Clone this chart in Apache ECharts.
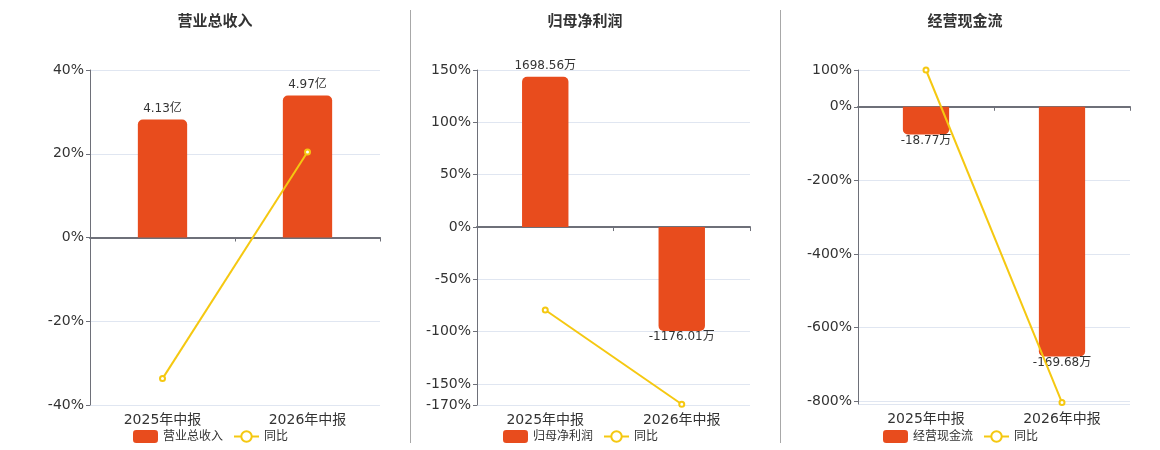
<!DOCTYPE html>
<html>
<head>
<meta charset="utf-8">
<script src="https://cdn.jsdelivr.net/npm/echarts@6/dist/echarts.min.js"></script>
<style>
    body { margin: 0; background: #fff; }
    .chart { position: absolute; top: 0; height: 450px; }
    .linea { position: absolute; top: 10px; height: 433px; width: 1px; background: #a8a8a8; }
</style>
</head>
<body>
<div id="graficoingresos" class="chart" style="left:0;width:410px"></div>
<div class="linea" style="left:410px"></div>
<div id="graficoutilidad" class="chart" style="left:410px;width:370px"></div>
<div class="linea" style="left:780px"></div>
<div id="graficoflujo" class="chart" style="left:780px;width:380px"></div>
<script>
// datos
var categorias = ['2025年中报', '2026年中报'];

var ingresos = [4.13, 4.97];          // 亿
var ingresosYoy = [-33.7, 20.4];      // %
var ingresosRango = [-40, 40];        // eje %
var ingresosRangoBarra = [-5.86, 5.86];

var utilidad = [1698.56, -1176.01];   // 万
var utilidadYoy = [-79.3, -169.24];
var utilidadRango = [-170, 150];
var utilidadRangoBarra = [-2012, 1775];

var flujo = [-18.77, -169.68];        // 万
var flujoYoy = [100, -804];
var flujoRango = [-808, 100];
var flujoRangoBarra = [-202, 25];

var fuente = "'DejaVu Sans', 'Noto Sans CJK SC', sans-serif";

function crearGrafico(domId, titulo, unidad, barras, yoy, rango, rangoBarra, cfg) {
    var dom = document.getElementById(domId);
    var myChart = echarts.init(dom, null, { renderer: 'canvas', useDirtyRect: false });

    var datosBarra = barras.map(function (v) {
        return {
            value: v,
            label: { position: v < 0 ? 'bottom' : 'top', distance: v < 0 ? 0 : 5 },
            itemStyle: { borderRadius: v < 0 ? [0, 0, 5, 5] : [5, 5, 0, 0] }
        };
    });

    var option = {
        animation: false,
        textStyle: { fontFamily: fuente },
        title: {
            text: titulo,
            left: cfg.tituloX,
            top: 10,
            textAlign: 'center',
            textStyle: { fontSize: 15, fontWeight: 'bold', color: '#333', fontFamily: fuente }
        },
        tooltip: { trigger: 'axis' },
        legend: {
            left: cfg.leyendaX,
            top: 425,
            itemWidth: 25,
            itemHeight: 13,
            itemGap: 10,
            textStyle: { fontSize: 12, color: '#333', fontFamily: fuente },
            data: [titulo, '同比']
        },
        grid: { left: cfg.izq, right: 30, top: 70, bottom: cfg.abajo || 45 },
        xAxis: [
            {
                type: 'category',
                data: categorias,
                axisLine: { show: false, onZero: false },
                axisTick: { show: false },
                axisLabel: { fontSize: 14, color: '#333', margin: 8, fontFamily: fuente }
            },
            {
                type: 'category',
                data: categorias,
                position: 'bottom',
                axisLine: { show: true, onZero: true, onZeroAxisIndex: 0, lineStyle: { color: '#6E7079', width: 2 } },
                axisTick: { show: true, length: 4, lineStyle: { color: '#6E7079' } },
                axisLabel: { show: false }
            }
        ],
        yAxis: [
            {
                type: 'value',
                min: rango[0],
                max: rango[1],
                axisLine: { show: true, lineStyle: { color: '#6E7079' } },
                axisTick: { show: true, length: 4 },
                axisLabel: { formatter: '{value}%', fontSize: 14, color: '#333', margin: 6, fontFamily: fuente },
                splitLine: { lineStyle: { color: '#E0E6F1' } }
            },
            {
                type: 'value',
                show: false,
                min: rangoBarra[0],
                max: rangoBarra[1],
                splitLine: { show: false }
            }
        ],
        series: [
            {
                name: titulo,
                type: 'bar',
                xAxisIndex: 0,
                yAxisIndex: 1,
                barWidth: '34%',
                itemStyle: { color: '#E84C1D' },
                label: {
                    show: true,
                    fontSize: 12,
                    color: '#333',
                    fontFamily: fuente,
                    formatter: function (p) { return p.value + unidad; }
                },
                data: datosBarra
            },
            {
                name: '同比',
                type: 'line',
                xAxisIndex: 0,
                yAxisIndex: 0,
                symbol: 'emptyCircle',
                symbolSize: 5,
                itemStyle: { color: '#F5C811' },
                lineStyle: { color: '#F5C811', width: 2 },
                data: yoy
            }
        ]
    };

    if (option && typeof option === 'object') {
        myChart.setOption(option);
    }
    window.addEventListener('resize', myChart.resize);
    return myChart;
}

//Grafico de ingresos
crearGrafico('graficoingresos', '营业总收入', '亿', ingresos, ingresosYoy, ingresosRango, ingresosRangoBarra,
    { tituloX: 210, leyendaX: 128, izq: 90 });

//Grafico de utilidad neta
crearGrafico('graficoutilidad', '归母净利润', '万', utilidad, utilidadYoy, utilidadRango, utilidadRangoBarra,
    { tituloX: 170, leyendaX: 88, izq: 67 });

//Grafico de flujo de caja
crearGrafico('graficoflujo', '经营现金流', '万', flujo, flujoYoy, flujoRango, flujoRangoBarra,
    { tituloX: 180, leyendaX: 98, izq: 78, abajo: 46 });
</script>
</body>
</html>
